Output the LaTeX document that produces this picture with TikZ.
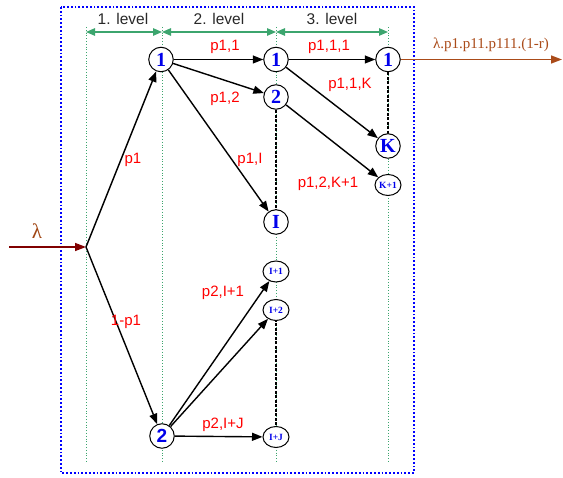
\documentclass[tikz,border=0pt]{standalone}
\usepackage{fontspec}
\setmainfont{Liberation Serif}
\setsansfont{Liberation Sans}
\usetikzlibrary{arrows.meta,shapes.geometric}
\definecolor{lvgreen}{RGB}{60,165,110}
\definecolor{outbrown}{RGB}{170,75,25}
\definecolor{inred}{RGB}{128,0,0}
\definecolor{lambrown}{RGB}{160,70,20}
\definecolor{nodeblue}{RGB}{0,0,235}
\definecolor{lvtext}{RGB}{40,40,40}
\begin{document}
\begin{tikzpicture}[x=1pt,y=-1pt,
  big/.style={circle,draw,line width=1pt,minimum size=24.5pt,inner sep=0pt,fill=white,
    font=\fontsize{20}{20}\selectfont\bfseries,text=nodeblue},
  small/.style={ellipse,draw,line width=1pt,minimum width=26pt,minimum height=21pt,inner sep=0pt,fill=white,
    font=\fontsize{9.5}{10}\selectfont\bfseries,text=nodeblue},
  edge/.style={-{Triangle[length=10.5pt,width=8pt]},line width=1.4pt,black},
  lab/.style={text=red,font=\sffamily\fontsize{15}{15}\selectfont,inner sep=0pt},
  lvl/.style={text=lvtext,font=\sffamily\fontsize{15.5}{15.5}\selectfont,inner sep=0pt},
  lvarrow/.style={lvgreen,line width=1.3pt,{Triangle[length=9pt,width=7.5pt]}-{Triangle[length=9pt,width=7.5pt]}},
  guide/.style={lvgreen,dotted,line width=0.8pt},
  gap/.style={dashed,dash pattern=on 3pt off 1.5pt,line width=1.4pt,black}]
\useasboundingbox (0,0) rectangle (563,478);
% frame
\draw[blue,dotted,line width=1.8pt] (61,7) rectangle (414,473);
% guide lines
\foreach \gx in {86,162,276,388} \draw[guide] (\gx,27) -- (\gx,462);
% level arrows
\coordinate (g0) at (86,32);
\coordinate (g1) at (162,32);
\coordinate (g2) at (276,32);
\coordinate (g3) at (388,32);
\draw[lvarrow] (g0) -- (g1);
\draw[lvarrow] (g1) -- (g2);
\draw[lvarrow] (g2) -- (g3);
\node[lvl] (lv1) at (123,19) {1. level};
\node[lvl] (lv2) at (219,19) {2. level};
\node[lvl] (lv3) at (332,19) {3. level};
% dashed gaps (drawn before nodes)
\coordinate (d2a) at (276,97);
\coordinate (d2b) at (276,222);
\coordinate (d2c) at (276,310);
\coordinate (d2d) at (276,437);
\coordinate (d3a) at (388,59);
\coordinate (d3b) at (388,146);
\draw[gap] (d2a) -- (d2b);
\draw[gap] (d2c) -- (d2d);
\draw[gap] (d3a) -- (d3b);
% nodes
\node[big] (a1) at (161,59.5) {1};
\node[big,font=\sffamily\fontsize{19}{19}\selectfont\bfseries] (a2) at (162,436) {2};
\node[big] (b1) at (276,59.5) {1};
\node[big] (b2) at (276,97) {2};
\node[big] (bI) at (276,222) {I};
\node[small] (bI1) at (276,271.5) {I+1};
\node[small] (bI2) at (276,310) {I+2};
\node[small] (bIJ) at (276,437) {I+J};
\node[big] (c1) at (388,59.5) {1};
\node[big] (cK) at (388,146) {K};
\node[small] (cK1) at (388,185) {K+1};
% input
\coordinate (lin) at (9,247);
\coordinate (split) at (86,247);
\draw[inred,line width=1.4pt,-{Triangle[length=11pt,width=8pt]}] (lin) -- (split);
\node[text=lambrown,font=\fontsize{21}{21}\selectfont,inner sep=0pt] (lam) at (37,231) {λ};
% output
\coordinate (out) at (562,59.5);
\draw[outbrown,line width=1.4pt,-{Triangle[length=11pt,width=8pt]}] (c1) -- (out);
\node[text=outbrown,font=\fontsize{15}{15}\selectfont,inner sep=0pt] (outlab) at (491,45) {λ.p1.p11.p111.(1-r)};
% edges
\draw[edge] (split) -- (a1);
\draw[edge] (split) -- (a2);
\draw[edge] (a1) -- (b1);
\draw[edge] (a1) -- (b2);
\draw[edge] (a1) -- (bI);
\draw[edge] (b1) -- (c1);
\draw[edge] (b1) -- (cK);
\draw[edge] (b2) -- (cK1);
\draw[edge] (a2) -- (bI1);
\draw[edge] (a2) -- (bI2);
\draw[edge] (a2) -- (bIJ);
% labels
\node[lab] (l1) at (133,160) {p1};
\node[lab] (l2) at (126,322) {1-p1};
\node[lab] (l11) at (225,47) {p1,1};
\node[lab] (l12) at (225,99) {p1,2};
\node[lab] (l1I) at (250,160) {p1,I};
\node[lab] (l111) at (329,47) {p1,1,1};
\node[lab] (l11K) at (350,85) {p1,1,K};
\node[lab] (l12K) at (328,184) {p1,2,K+1};
\node[lab] (l2I1) at (223,293) {p2,I+1};
\node[lab] (l2IJ) at (223,425) {p2,I+J};
\end{tikzpicture}
\end{document}
